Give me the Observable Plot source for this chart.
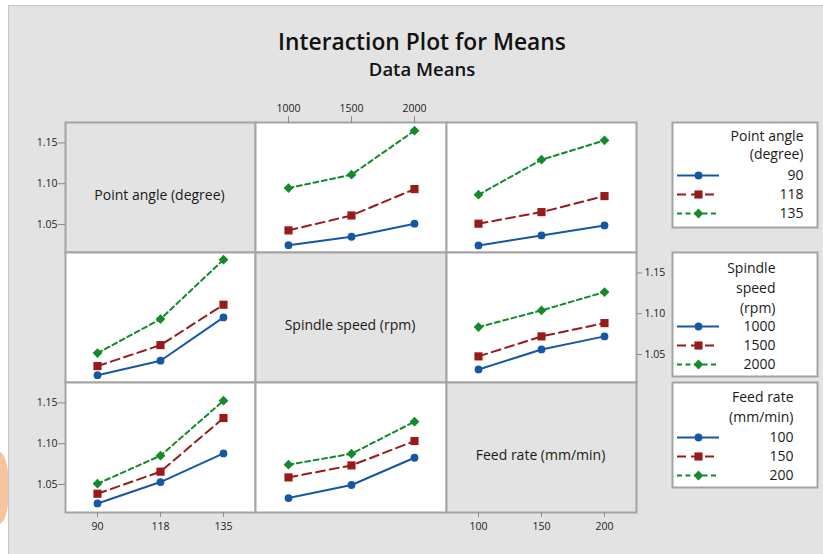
<!DOCTYPE html>
<html>
<head>
<meta charset="utf-8">
<script src="https://cdn.jsdelivr.net/npm/d3@7"></script>
<script src="https://cdn.jsdelivr.net/npm/@observablehq/plot@0.6"></script>
<style>
  body { margin: 0; background: #fff; }
  #root { position: relative; width: 823px; height: 554px; overflow: hidden; font-family: "Open Sans", sans-serif; }
  #blob { position: absolute; left: -10px; top: 452px; width: 19px; height: 72px; border-radius: 50%; background: #f7c39f; }
  #bg { position: absolute; left: 8px; top: 5px; width: 830px; height: 560px; background: #e3e3e3; border-left: 1px solid #c4c4c4; border-top: 1px solid #c4c4c4; }
  .title { position: absolute; left: 0; width: 844px; text-align: center; color: #111; font-weight: 600; }
  #t1 { top: 29px; font-size: 22.8px; line-height: 26px; }
  #t2 { top: 58px; font-size: 18.5px; line-height: 22px; }
</style>
</head>
<body>
<div id="root">
  <div id="blob"></div>
  <div id="bg"></div>
  <div class="title" id="t1">Interaction Plot for Means</div>
  <div class="title" id="t2">Data Means</div>
</div>
<script>
// ---------------- data ----------------
const pointAngles   = ["90", "118", "135"];
const spindleSpeeds = ["1000", "1500", "2000"];
const feedRates     = ["100", "150", "200"];
const yTicks = [1.05, 1.10, 1.15];

const factorNames = ["Point angle (degree)", "Spindle speed (rpm)", "Feed rate (mm/min)"];
const legendTitles = ["Point angle\n(degree)", "Spindle\nspeed\n(rpm)", "Feed rate\n(mm/min)"];

// Row 1: traces = point angle
const bySpeed_angle90  = [1.0247, 1.0350, 1.0510];
const bySpeed_angle118 = [1.0428, 1.0611, 1.0934];
const bySpeed_angle135 = [1.0946, 1.1110, 1.1650];
const byFeed_angle90   = [1.0244, 1.0366, 1.0489];
const byFeed_angle118  = [1.0510, 1.0652, 1.0848];
const byFeed_angle135  = [1.0865, 1.1294, 1.1531];
// Row 2: traces = spindle speed
const byAngle_speed1000 = [1.0247, 1.0424, 1.0955];
const byAngle_speed1500 = [1.0358, 1.0615, 1.1110];
const byAngle_speed2000 = [1.0517, 1.0934, 1.1662];
const byFeed_speed1000  = [1.0317, 1.0562, 1.0722];
const byFeed_speed1500  = [1.0477, 1.0722, 1.0885];
const byFeed_speed2000  = [1.0836, 1.1040, 1.1265];
// Row 3: traces = feed rate
const byAngle_feed100 = [1.0268, 1.0530, 1.0881];
const byAngle_feed150 = [1.0387, 1.0657, 1.1315];
const byAngle_feed200 = [1.0510, 1.0853, 1.1527];
const bySpeed_feed100 = [1.0334, 1.0494, 1.0828];
const bySpeed_feed150 = [1.0587, 1.0734, 1.1033];
const bySpeed_feed200 = [1.0743, 1.0877, 1.1270];

// ---------------- styles ----------------
const seriesStyle = [
  {color: "#1557a6", dash: null,   symbol: "circle",   r: 3.9},
  {color: "#981b1b", dash: "9,5",  symbol: "square",   r: 4.6},
  {color: "#138a2b", dash: "5,3.5", symbol: "diamond2", r: 4.4}
];
const Y_DOMAIN = [1.0157, 1.175];
const colEdges = [65, 255, 446, 636];
const rowEdges = [122, 252, 382, 512];
const GRID = "#a4a4a4";
const M = 45;
const root = document.getElementById("root");
const FONT = "'Open Sans', sans-serif";

function place(svg, left, top) {
  svg.style.position = "absolute";
  svg.style.left = left + "px";
  svg.style.top = top + "px";
  root.appendChild(svg);
}

const axisText = {fill: "#222", stroke: "#8a8a8a", fontSize: 10.5, label: null};

function panel(r, c, {cats, series, diag, axes = []}) {
  const w = colEdges[c + 1] - colEdges[c];
  const h = rowEdges[r + 1] - rowEdges[r];
  const marks = [Plot.frame({fill: diag ? "#e3e3e3" : "white", stroke: GRID, strokeWidth: 2})];
  if (diag) {
    marks.push(Plot.text([factorNames[r]], {frameAnchor: "middle", dx: -1, dy: 8, fontSize: 14, fill: "#1a1a1a"}));
  }
  for (const a of axes) {
    if (a === "left")   marks.push(Plot.axisY(yTicks, {anchor: "left", tickSize: 7, tickPadding: 1, tickFormat: d3.format(".2f"), ...axisText}));
    if (a === "right")  marks.push(Plot.axisY(yTicks, {anchor: "right", tickSize: 5, tickPadding: 3, tickFormat: d3.format(".2f"), ...axisText}));
    if (a === "bottom") marks.push(Plot.axisX(cats, {anchor: "bottom", tickSize: 5, tickPadding: 5.5, ...axisText}));
    if (a === "top")    marks.push(Plot.axisX(cats, {anchor: "top", tickSize: 7, tickPadding: 4, ...axisText}));
  }
  if (series) {
    series.forEach((vals, i) => {
      const s = seriesStyle[i];
      const data = cats.map((x, j) => ({x, y: vals[j]}));
      marks.push(Plot.line(data, {x: "x", y: "y", stroke: s.color, strokeWidth: 2, strokeDasharray: s.dash}));
    });
    series.forEach((vals, i) => {
      const s = seriesStyle[i];
      const data = cats.map((x, j) => ({x, y: vals[j]}));
      marks.push(Plot.dot(data, {x: "x", y: "y", fill: s.color, symbol: s.symbol, r: s.r}));
    });
  }
  const svg = Plot.plot({
    width: w + 2 * M, height: h + 2 * M,
    marginLeft: M, marginRight: M, marginTop: M, marginBottom: M,
    style: {background: "transparent", overflow: "visible", fontFamily: FONT},
    x: {type: "point", domain: cats, padding: 0.5, axis: null},
    y: {domain: Y_DOMAIN, axis: null},
    marks
  });
  place(svg, colEdges[c] - M, rowEdges[r] - M);
}

// row 1
panel(0, 0, {cats: pointAngles, diag: true, axes: ["left"]});
panel(0, 1, {cats: spindleSpeeds, series: [bySpeed_angle90, bySpeed_angle118, bySpeed_angle135], axes: ["top"]});
panel(0, 2, {cats: feedRates, series: [byFeed_angle90, byFeed_angle118, byFeed_angle135]});
// row 2
panel(1, 0, {cats: pointAngles, series: [byAngle_speed1000, byAngle_speed1500, byAngle_speed2000]});
panel(1, 1, {cats: spindleSpeeds, diag: true});
panel(1, 2, {cats: feedRates, series: [byFeed_speed1000, byFeed_speed1500, byFeed_speed2000], axes: ["right"]});
// row 3
panel(2, 0, {cats: pointAngles, series: [byAngle_feed100, byAngle_feed150, byAngle_feed200], axes: ["left", "bottom"]});
panel(2, 1, {cats: spindleSpeeds, series: [bySpeed_feed100, bySpeed_feed150, bySpeed_feed200]});
panel(2, 2, {cats: feedRates, diag: true, axes: ["bottom"]});

// ---------------- legends ----------------
function legend({title, levels, top, height, inset, titleDy, lineHeight, entryRange}) {
  const marks = [Plot.frame({fill: "white", stroke: GRID, strokeWidth: 2})];
  marks.push(Plot.text([title], {frameAnchor: "top-right", dx: -inset, dy: titleDy, lineAnchor: "top", lineHeight, textAnchor: "end", fontSize: 14, fill: "#1a1a1a"}));
  levels.forEach((lv, i) => {
    const s = seriesStyle[i];
    marks.push(Plot.ruleY([lv], {y: d => d, x1: 0, x2: 1, stroke: s.color, strokeWidth: 2, strokeDasharray: s.dash}));
    marks.push(Plot.dot([lv], {x: () => 0.5, y: d => d, fill: s.color, symbol: s.symbol, r: s.r}));
  });
  marks.push(Plot.text(levels, {y: d => d, text: d => d, frameAnchor: "right", dx: -inset, textAnchor: "end", fontSize: 14, fill: "#1a1a1a"}));
  const svg = Plot.plot({
    width: 145, height,
    margin: 0,
    style: {background: "transparent", overflow: "visible", fontFamily: FONT},
    x: {domain: [0, 1], range: [5, 47], axis: null},
    y: {type: "point", domain: levels, range: entryRange, padding: 0, axis: null},
    marks
  });
  place(svg, 672, top);
}

legend({title: legendTitles[0], levels: pointAngles, top: 122, height: 105, inset: 14, titleDy: 5, lineHeight: 1.31, entryRange: [52, 91]});
legend({title: legendTitles[1], levels: spindleSpeeds, top: 252, height: 124, inset: 42, titleDy: 6, lineHeight: 1.43, entryRange: [74, 112]});
legend({title: legendTitles[2], levels: feedRates, top: 382, height: 105, inset: 24, titleDy: 6, lineHeight: 1.38, entryRange: [55, 93]});
</script>
</body>
</html>
